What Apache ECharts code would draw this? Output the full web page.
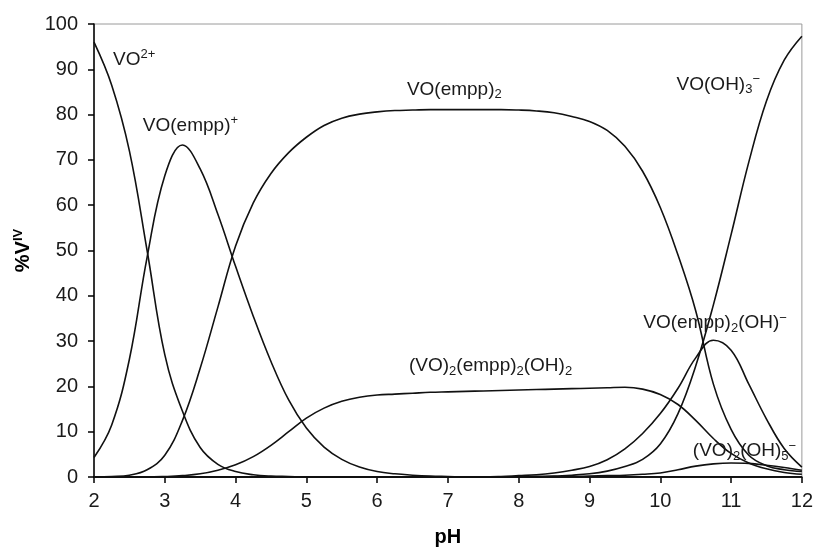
<!DOCTYPE html>
<html>
<head>
<meta charset="utf-8">
<script src="https://cdn.jsdelivr.net/npm/echarts@6/dist/echarts.min.js"></script>
<style>
html,body{margin:0;padding:0;background:#fff;}
#chart{width:816px;height:552px;}
</style>
</head>
<body>
<div id="chart"></div>
<script>
// ---- data ----
const pH = [2,2.25,2.5,2.75,3,3.25,3.5,3.75,4,4.25,4.5,4.75,5,5.25,5.5,5.75,6,6.25,6.5,6.75,7,7.25,7.5,7.75,8,8.25,8.5,8.75,9,9.25,9.5,9.75,10,10.25,10.5,10.75,11,11.25,11.5,11.75,12];
const xTicks = [2,3,4,5,6,7,8,9,10,11,12];
const yTicks = [0,10,20,30,40,50,60,70,80,90,100];

const VO2 = [96,86.5,72,50,27,14.5,6.5,2.8,1.2,0.5,0.2,0.1,0,0,0,0,0,0,0,0,0,0,0,0,0,0,0,0,0,0,0,0,0,0,0,0,0,0,0,0,0];
const VOempp = [4.3,11.5,26,48.5,66.5,73.3,68,58,46.5,35.5,25.5,17,10.8,6.6,3.9,2.2,1.2,0.7,0.4,0.2,0.1,0,0,0,0,0,0,0,0,0,0,0,0,0,0,0,0,0,0,0,0];
const VOempp2 = [0,0.1,0.4,1.6,4.8,12.5,24,37.5,51,60.5,67,71.6,75,77.6,79.2,80.1,80.6,80.9,81,81.1,81.1,81.1,81.1,81.1,81,80.8,80.4,79.6,78.5,76.5,73,67.5,59.5,49,36.7,20.5,10.5,4.8,2.5,1.6,1.2];
const dimerEmpp = [0,0,0,0,0.1,0.3,0.7,1.5,2.7,4.5,7,10,13,15.2,16.7,17.6,18.1,18.3,18.5,18.7,18.8,18.9,19,19.1,19.2,19.3,19.4,19.5,19.6,19.7,19.8,19.4,18.2,16,12.5,8.5,5.2,3.1,1.8,1,0.6];
const VOempp2OH = [0,0,0,0,0,0,0,0,0,0,0,0,0,0,0,0,0,0,0,0,0,0,0,0.1,0.3,0.5,0.9,1.5,2.3,3.8,6.2,9.6,14,19.6,26.3,30.2,28,20.5,12.8,6.3,2.2];
const VOOH3 = [0,0,0,0,0,0,0,0,0,0,0,0,0,0,0,0,0,0,0,0,0,0,0,0,0.1,0.15,0.2,0.4,0.7,1.3,2.3,3.9,7.3,14,24.5,38,53.5,69.5,83,92,97.3];
const dimerOH5 = [0,0,0,0,0,0,0,0,0,0,0,0,0,0,0,0,0,0,0,0,0,0,0,0,0,0,0.1,0.1,0.2,0.3,0.4,0.6,0.9,1.6,2.4,2.9,3.1,3.0,2.6,2.1,1.5];

// ---- labels (text + anchor in data space) ----
const labelTexts = [
  '{n|VO}{sup|2+}',
  '{n|VO(empp)}{sup|+}',
  '{n|VO(empp)}{sub|2}',
  '{n|(VO)}{sub|2}{n|(empp)}{sub|2}{n|(OH)}{sub|2}',
  '{n|VO(empp)}{sub|2}{n|(OH)}{sup|\u2212}',
  '{n|VO(OH)}{sub|3}{sup|\u2212}',
  '{n|(VO)}{sub|2}{n|(OH)}{sub|5}{sup|\u2212}'
];
const labelAnchors = [[2.27,92.1],[2.69,77.6],[6.42,85.5],[6.45,24.5],[9.76,34],[10.23,86.6],[10.46,5.7]];

const seriesData = [VO2, VOempp, VOempp2, dimerEmpp, VOempp2OH, VOOH3, dimerOH5];
const FONT = 'Liberation Sans, Arial, sans-serif';

const rich = {
  n: {fontSize: 19, fontFamily: FONT, color: '#1a1a1a', lineHeight: 23, verticalAlign: 'middle'},
  sup: {fontSize: 13, fontFamily: FONT, color: '#1a1a1a', lineHeight: 23, verticalAlign: 'top'},
  sub: {fontSize: 13, fontFamily: FONT, color: '#1a1a1a', lineHeight: 23, verticalAlign: 'bottom'}
};

const series = seriesData.map((arr, i) => ({
  type: 'line',
  data: pH.map((x, j) => [x, arr[j]]),
  showSymbol: false,
  smooth: 0.4,
  lineStyle: {color: '#111', width: 1.6},
  silent: true,
  markPoint: {
    symbol: 'circle',
    symbolSize: 0,
    silent: true,
    data: [{coord: labelAnchors[i]}],
    label: {
      show: true,
      position: 'right',
      distance: 0,
      formatter: labelTexts[i],
      rich: rich
    }
  }
}));

const chart = echarts.init(document.getElementById('chart'), null, {renderer: 'canvas'});
chart.setOption({
  animation: false,
  backgroundColor: '#fff',
  grid: {left: 94, right: 13, top: 24, bottom: 72, show: true, borderColor: '#9a9a9a', borderWidth: 1},
  xAxis: {
    type: 'value', min: xTicks[0], max: xTicks[xTicks.length-1], interval: 1,
    name: 'pH', nameLocation: 'middle', nameGap: 50,
    nameTextStyle: {fontSize: 20, fontWeight: 'bold', fontFamily: FONT, color: '#000'},
    axisLine: {show: true, onZero: false, lineStyle: {color: '#000', width: 1.5}},
    axisTick: {show: true, inside: false, length: 6, lineStyle: {color: '#000', width: 1.5}},
    axisLabel: {fontSize: 20, fontFamily: FONT, color: '#1a1a1a', margin: 14},
    splitLine: {show: false}
  },
  yAxis: {
    type: 'value', min: yTicks[0], max: yTicks[yTicks.length-1], interval: 10,
    name: '{b|%V}{bs|IV}', nameLocation: 'middle', nameGap: 58,
    nameTextStyle: {rich: {
      b: {fontSize: 20, fontWeight: 'bold', fontFamily: FONT, color: '#000', lineHeight: 24, verticalAlign: 'middle'},
      bs: {fontSize: 13, fontWeight: 'bold', fontFamily: FONT, color: '#000', lineHeight: 24, verticalAlign: 'top'}
    }},
    axisLine: {show: true, onZero: false, lineStyle: {color: '#000', width: 1.5}},
    axisTick: {show: true, inside: false, length: 6, lineStyle: {color: '#000', width: 1.5}},
    axisLabel: {fontSize: 20, fontFamily: FONT, color: '#1a1a1a', margin: 16},
    splitLine: {show: false}
  },
  series: series
});
</script>
</body>
</html>
